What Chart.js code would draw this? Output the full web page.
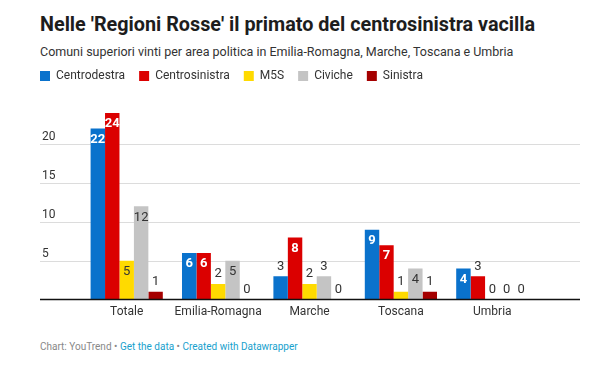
<!DOCTYPE html>
<html>
<head>
<meta charset="utf-8">
<script src="https://cdn.jsdelivr.net/npm/chart.js@4"></script>
<style>
    body { margin: 0; background: #fff; font-family: Roboto, sans-serif; }
    #wrap { position: relative; width: 609px; height: 388px; }
    .title { position: absolute; left: 40px; top: 13px; font-size: 19.8px; font-weight: bold; color: #1d1d1d; white-space: nowrap; }
    .sub { position: absolute; left: 40px; top: 44px; font-size: 12.5px; color: #333; white-space: nowrap; }
    .foot { position: absolute; left: 40px; top: 341px; font-size: 10px; color: #888; white-space: nowrap; }
    .foot a { color: #18a1cd; text-decoration: none; }
    #box { position: absolute; left: 0; top: 56px; width: 609px; height: 268px; }
</style>
</head>
<body>
<div id="wrap">
    <div class="title">Nelle 'Regioni Rosse' il primato del centrosinistra vacilla</div>
    <div class="sub">Comuni superiori vinti per area politica in Emilia-Romagna, Marche, Toscana e Umbria</div>
    <div id="box"><canvas id="chart"></canvas></div>
    <div class="foot">Chart: YouTrend • <a>Get the data</a> • <a>Created with Datawrapper</a></div>
</div>
<script>
// dati
const categorie = ['Totale', 'Emilia-Romagna', 'Marche', 'Toscana', 'Umbria'];
const centrodestra = [22, 6, 3, 9, 4];
const centrosinistra = [24, 6, 8, 7, 3];
const m5s = [5, 2, 2, 1, 0];
const civiche = [12, 5, 3, 4, 0];
const sinistra = [1, 0, 0, 1, 0];
const yTicks = [5, 10, 15, 20];

// colori: sfondo della barra e colore dell'etichetta interna
const colori = {
    Centrodestra: ['#0a72cc', '#fff'],
    Centrosinistra: ['#db0000', '#fff'],
    M5S: ['#ffda00', '#333'],
    Civiche: ['#c4c4c4', '#333'],
    Sinistra: ['#a50000', '#fff']
};

// spazio extra sotto la legenda
const legendSpace = {
    id: 'legendSpace',
    beforeInit(chart) {
        const fit = chart.legend.fit;
        chart.legend.fit = function () {
            fit.bind(chart.legend)();
            this.height += 21;
        };
    }
};

// griglia e tacche su tutta la larghezza, come in Datawrapper
const gridPlugin = {
    id: 'fullGrid',
    beforeDatasetsDraw(chart) {
        const ctx = chart.ctx;
        const y = chart.scales.y;
        ctx.save();
        ctx.font = '12px Roboto';
        ctx.textAlign = 'left';
        ctx.textBaseline = 'alphabetic';
        yTicks.forEach(v => {
            const py = Math.round(y.getPixelForValue(v)) + 0.5;
            ctx.strokeStyle = '#dcdcdc';
            ctx.lineWidth = 1;
            ctx.beginPath();
            ctx.moveTo(40, py);
            ctx.lineTo(580, py);
            ctx.stroke();
            ctx.fillStyle = '#333';
            ctx.fillText(String(v), 42, py - 5);
        });
        ctx.restore();
    },
    afterDatasetsDraw(chart) {
        const ctx = chart.ctx;
        const y = chart.scales.y;
        const py = y.getPixelForValue(0);
        ctx.save();
        ctx.strokeStyle = '#111';
        ctx.lineWidth = 1.5;
        ctx.beginPath();
        ctx.moveTo(40, py);
        ctx.lineTo(580, py);
        ctx.stroke();

        // etichette dei valori
        ctx.textAlign = 'center';
        ctx.textBaseline = 'middle';
        chart.data.datasets.forEach((ds, i) => {
            const meta = chart.getDatasetMeta(i);
            meta.data.forEach((bar, j) => {
                const v = ds.data[j];
                const h = bar.base - bar.y;
                if (h >= 28) {
                    const light = colori[ds.label][1] === '#fff';
                    ctx.font = (light ? 'bold ' : '') + '13px Roboto';
                    ctx.fillStyle = colori[ds.label][1];
                    ctx.fillText(String(v), bar.x, bar.y + 11);
                } else {
                    ctx.font = '13px Roboto';
                    ctx.fillStyle = '#333';
                    ctx.fillText(String(v), bar.x, bar.y - 10);
                }
            });
        });
        ctx.restore();
    }
};

const serie = [
    ['Centrodestra', centrodestra],
    ['Centrosinistra', centrosinistra],
    ['M5S', m5s],
    ['Civiche', civiche],
    ['Sinistra', sinistra]
];

new Chart(document.getElementById('chart'), {
    type: 'bar',
    data: {
        labels: categorie,
        datasets: serie.map(([nome, valori]) => ({
            label: nome,
            data: valori,
            backgroundColor: colori[nome][0],
            borderWidth: 0,
            barPercentage: 1,
            categoryPercentage: 0.79
        }))
    },
    options: {
        responsive: true,
        maintainAspectRatio: false,
        animation: false,
        layout: { padding: { left: 26, right: 71, top: 0, bottom: 0 } },
        plugins: {
            legend: {
                position: 'top',
                align: 'start',
                labels: {
                    boxWidth: 10,
                    boxHeight: 10,
                    padding: 14,
                    color: '#333',
                    font: { family: 'Roboto', size: 12 }
                }
            },
            tooltip: { enabled: false }
        },
        scales: {
            y: {
                min: 0,
                max: 24,
                grid: { display: false },
                border: { display: false },
                ticks: { display: false },
                afterFit(scale) { scale.width = 55; }
            },
            x: {
                grid: { display: false, drawTicks: false },
                border: { display: false },
                ticks: {
                    color: '#333',
                    padding: 5,
                    maxRotation: 0,
                    autoSkip: false,
                    font: { family: 'Roboto', size: 12 }
                }
            }
        }
    },
    plugins: [legendSpace, gridPlugin]
});
</script>
</body>
</html>
